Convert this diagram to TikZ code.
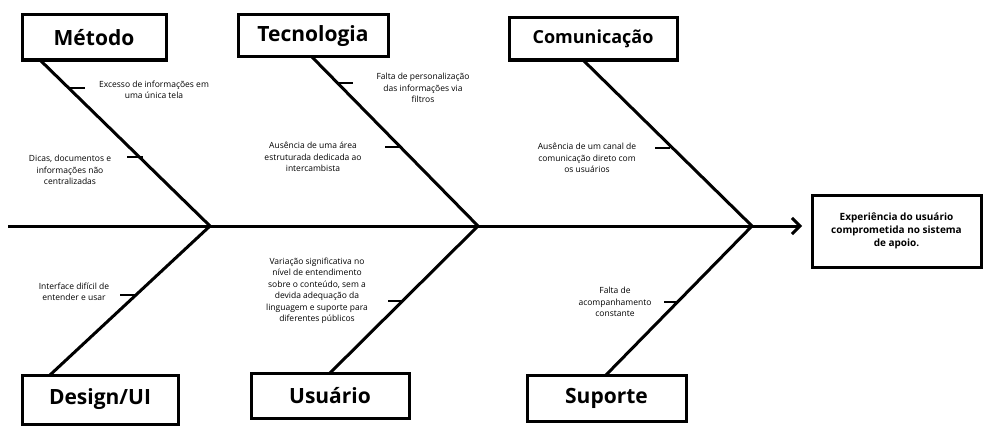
\documentclass[tikz,border=0pt]{standalone}
\usepackage{fontspec}
\setmainfont{Open Sans}
\usetikzlibrary{arrows.meta}
\begin{document}
\begin{tikzpicture}[x=1pt,y=-1pt,
  catbox/.style={draw,line width=3pt,font=\bfseries\fontsize{21}{24}\selectfont,inner sep=0pt},
  bone/.style={line width=3pt},
  tick/.style={line width=1.6pt},
  lab/.style={font=\fontsize{8.5}{11.5}\selectfont,align=center,inner sep=0pt}]
\useasboundingbox (0,0) rectangle (1000,444);
\fill[white] (0,0) rectangle (1000,444);
% category boxes
\node[catbox,minimum width=144pt,minimum height=45pt] (met) at (94,37.5) {Método};
\node[catbox,minimum width=150pt,minimum height=42pt] (tec) at (313,36) {Tecnologia};
\node[catbox,minimum width=168pt,minimum height=42pt,font=\bfseries\fontsize{18}{22}\selectfont] (com) at (593,39) {Comunicação};
\node[catbox,minimum width=156pt,minimum height=49pt] (des) at (100,399.5) {Design/UI};
\node[catbox,minimum width=158pt,minimum height=45pt] (usu) at (330,395.5) {Usuário};
\node[catbox,minimum width=159pt,minimum height=46pt] (sup) at (606.5,398) {Suporte};
\node[draw,line width=3pt,minimum width=169pt,minimum height=72pt,font=\bfseries\fontsize{10}{13}\selectfont,align=center] (eff) at (896.5,231) {Experiência do usuário\\comprometida no sistema\\de apoio.};
% spine
\coordinate (s0) at (8,226);
\coordinate (j1) at (210,226);
\coordinate (j2) at (478,226);
\coordinate (j3) at (752,226);
\coordinate (s1) at (802,226);
\draw[bone,-{Straight Barb[length=8pt,width=16pt,line width=3pt]}] (s0) -- (s1);
% bones
\coordinate (m0) at (40,60); \coordinate (t0) at (312,57); \coordinate (c0) at (583,60);
\coordinate (d0) at (50,375); \coordinate (u0) at (330,373); \coordinate (p0) at (606,375);
\draw[bone] (m0) -- (j1); \draw[bone] (t0) -- (j2); \draw[bone] (c0) -- (j3);
\draw[bone] (d0) -- (j1); \draw[bone] (u0) -- (j2); \draw[bone] (p0) -- (j3);
% ticks
\draw[tick] (70,88) -- (85,88);
\draw[tick] (127,157) -- (143,157);
\draw[tick] (338,83) -- (353,83);
\draw[tick] (385,147) -- (400,147);
\draw[tick] (655,148) -- (670,148);
\draw[tick] (120,295) -- (135,295);
\draw[tick] (388,301) -- (403,301);
\draw[tick] (664,302) -- (679,302);
% labels
\node[lab] (l1) at (154,90) {Excesso de informações em\\uma única tela};
\node[lab] (l2) at (70,170) {Dicas, documentos e\\informações não\\centralizadas};
\node[lab] (l3) at (423,88) {Falta de personalização\\das informações via\\filtros};
\node[lab] (l4) at (313,157) {Ausência de uma área\\estruturada dedicada ao\\intercambista};
\node[lab] (l5) at (587,158) {Ausência de um canal de\\comunicação direto com\\os usuários};
\node[lab] (l6) at (74,292) {Interface difícil de\\entender e usar};
\node[lab] (l7) at (317,291) {Variação significativa no\\nível de entendimento\\sobre o conteúdo, sem a\\devida adequação da\\linguagem e suporte para\\diferentes públicos};
\node[lab] (l8) at (615,302) {Falta de\\acompanhamento\\constante};
\end{tikzpicture}
\end{document}
